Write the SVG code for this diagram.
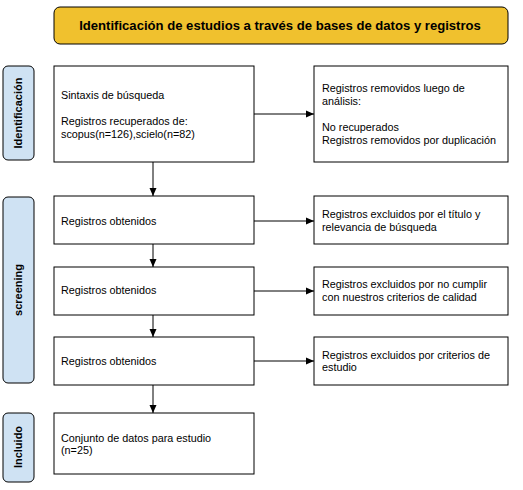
<svg xmlns="http://www.w3.org/2000/svg" width="523" height="490" viewBox="0 0 523 490">
<style>
.box{fill:#fff;stroke:#000;stroke-width:1}
.side{fill:#cfe2f3;stroke:#000;stroke-width:1}
.t{font-family:"Liberation Sans",Arial,sans-serif;font-size:10.8px;fill:#000}
.sl{font-family:"Liberation Sans",Arial,sans-serif;font-size:11px;font-weight:bold;fill:#000;text-anchor:middle}
.c{stroke:#000;stroke-width:1;fill:none;marker-end:url(#ah)}
</style>
<defs>
<marker id="ah" viewBox="0 0 8 8" refX="8" refY="4" markerWidth="8" markerHeight="8" markerUnits="userSpaceOnUse" orient="auto">
<path d="M0,0.5 L8,4 L0,7.5 Z" fill="#000"/>
</marker>
</defs>
<rect width="523" height="490" fill="#fff"/>
<g id="title">
<rect x="54" y="7" width="454" height="37" rx="6" fill="#f0c12e" stroke="#000"/>
<text x="280" y="30" font-family="Liberation Sans,Arial,sans-serif" font-size="13.1" font-weight="bold" text-anchor="middle">Identificación de estudios a través de bases de datos y registros</text>
</g>
<g id="lbl-identificacion">
<rect x="3" y="66" width="31" height="94" rx="5" class="side"/>
<text class="sl" transform="translate(22,113) rotate(-90)">Identificación</text>
</g>
<g id="lbl-screening">
<rect x="3" y="197" width="31" height="186" rx="5" class="side"/>
<text class="sl" transform="translate(22,290) rotate(-90)">screening</text>
</g>
<g id="lbl-incluido">
<rect x="3" y="413" width="31" height="69" rx="5" class="side"/>
<text class="sl" transform="translate(22,447) rotate(-90)">Incluido</text>
</g>
<g id="n1">
<rect x="54" y="66" width="200" height="96" class="box"/>
<text class="t" x="61" y="99">Sintaxis de búsqueda</text>
<text class="t" x="61" y="125">Registros recuperados de:</text>
<text class="t" x="61" y="138">scopus(n=126),scielo(n=82)</text>
</g>
<g id="r1">
<rect x="314" y="66" width="194" height="96" class="box"/>
<text class="t" x="322" y="92">Registros removidos luego de</text>
<text class="t" x="322" y="105">análisis:</text>
<text class="t" x="322" y="131">No recuperados</text>
<text class="t" x="322" y="144">Registros removidos por duplicación</text>
</g>
<g id="n2">
<rect x="54" y="196" width="200" height="48" class="box"/>
<text class="t" x="61" y="225">Registros obtenidos</text>
</g>
<g id="r2">
<rect x="314" y="196" width="194" height="48" class="box"/>
<text class="t" x="322" y="218">Registros excluidos por el título y</text>
<text class="t" x="322" y="231">relevancia de búsqueda</text>
</g>
<g id="n3">
<rect x="54" y="267" width="200" height="48" class="box"/>
<text class="t" x="61" y="294">Registros obtenidos</text>
</g>
<g id="r3">
<rect x="314" y="267" width="194" height="48" class="box"/>
<text class="t" x="322" y="288">Registros excluidos por no cumplir</text>
<text class="t" x="322" y="301">con nuestros criterios de calidad</text>
</g>
<g id="n4">
<rect x="54" y="337" width="200" height="48" class="box"/>
<text class="t" x="61" y="365">Registros obtenidos</text>
</g>
<g id="r4">
<rect x="314" y="337" width="194" height="48" class="box"/>
<text class="t" x="322" y="359">Registros excluidos por criterios de</text>
<text class="t" x="322" y="371">estudio</text>
</g>
<g id="n5">
<rect x="54" y="413" width="200" height="61" class="box"/>
<text class="t" x="61" y="442">Conjunto de datos para estudio</text>
<text class="t" x="61" y="454">(n=25)</text>
</g>
<g id="connectors">
<line class="c" x1="254" y1="114" x2="314" y2="114"/>
<line class="c" x1="153" y1="162" x2="153" y2="196"/>
<line class="c" x1="254" y1="221" x2="314" y2="221"/>
<line class="c" x1="153" y1="244" x2="153" y2="267"/>
<line class="c" x1="254" y1="291" x2="314" y2="291"/>
<line class="c" x1="153" y1="315" x2="153" y2="337"/>
<line class="c" x1="254" y1="361" x2="314" y2="361"/>
<line class="c" x1="153" y1="385" x2="153" y2="413"/>
</g>
</svg>
